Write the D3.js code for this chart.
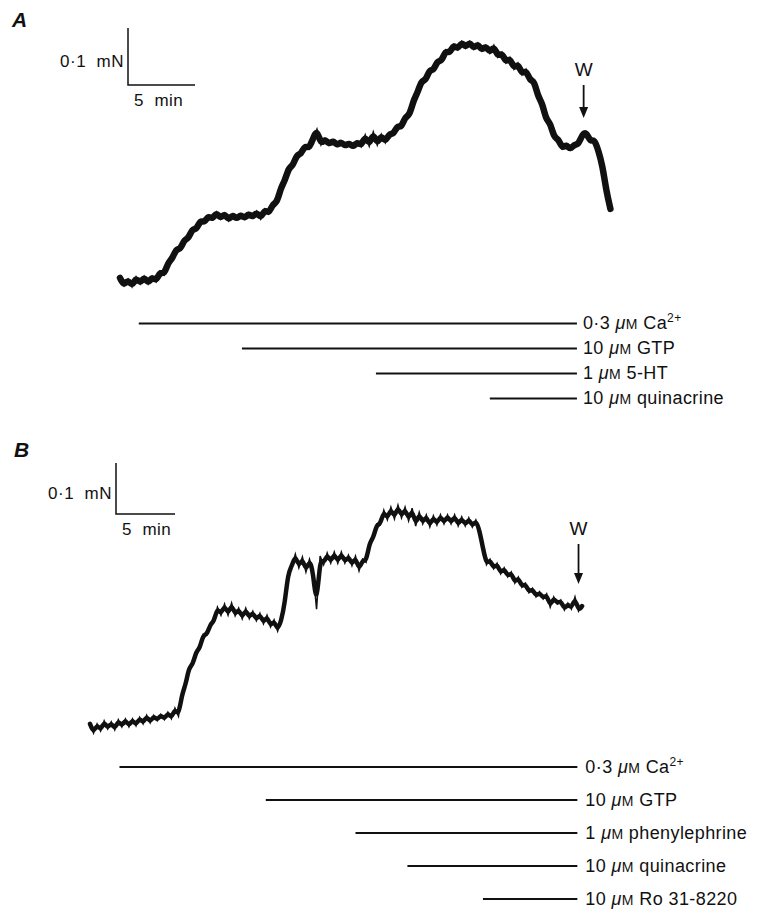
<!DOCTYPE html>
<html>
<head>
<meta charset="utf-8">
<script src="https://cdn.jsdelivr.net/npm/d3@7/dist/d3.min.js"></script>
<style>
  body { margin: 0; background: #fff; }
  svg text { font-family: "Liberation Sans", Arial, Helvetica, sans-serif; fill: #111; white-space: pre; }
</style>
</head>
<body>
<div id="chart"></div>
<script>
// tension traces, sampled every SAMPLE_MIN minutes (mN above starting level)
var SAMPLE_MIN = 0.3;

var traceA = [
  0.009, -0.005, 0.007, -0.007, 0.011, -0.002, 0.012, -0.002, 0.012, 0.002,
  0.021, 0.014, 0.037, 0.042, 0.061, 0.058, 0.077, 0.077, 0.096, 0.093,
  0.111, 0.105, 0.119, 0.111, 0.125, 0.112, 0.123, 0.109, 0.121, 0.111,
  0.121, 0.112, 0.123, 0.114, 0.126, 0.112, 0.130, 0.121, 0.139, 0.140,
  0.167, 0.179, 0.203, 0.205, 0.226, 0.225, 0.242, 0.235, 0.253, 0.270,
  0.242, 0.254, 0.242, 0.251, 0.240, 0.249, 0.239, 0.247, 0.237, 0.249,
  0.239, 0.260, 0.240, 0.265, 0.242, 0.261, 0.246, 0.263, 0.260, 0.277,
  0.272, 0.293, 0.293, 0.321, 0.333, 0.356, 0.354, 0.375, 0.372, 0.391,
  0.388, 0.409, 0.402, 0.419, 0.409, 0.424, 0.412, 0.424, 0.410, 0.421,
  0.407, 0.417, 0.403, 0.417, 0.396, 0.405, 0.386, 0.396, 0.375, 0.386,
  0.365, 0.375, 0.354, 0.356, 0.326, 0.317, 0.286, 0.282, 0.254, 0.254,
  0.235, 0.244, 0.233, 0.244, 0.242, 0.261, 0.265, 0.247, 0.253, 0.232,
  0.207, 0.160, 0.130
];

var traceB = [
  0.012, -0.006, 0.012, -0.002, 0.018, 0.002, 0.016, 0.000, 0.020, 0.006,
  0.022, 0.006, 0.022, 0.008, 0.025, 0.012, 0.029, 0.014, 0.029, 0.018,
  0.031, 0.020, 0.035, 0.022, 0.043, 0.027, 0.071, 0.088, 0.124, 0.127,
  0.155, 0.159, 0.188, 0.186, 0.208, 0.212, 0.241, 0.225, 0.247, 0.225,
  0.249, 0.224, 0.239, 0.218, 0.239, 0.218, 0.233, 0.214, 0.229, 0.208,
  0.225, 0.202, 0.216, 0.194, 0.214, 0.247, 0.310, 0.320, 0.345, 0.318,
  0.339, 0.310, 0.335, 0.312, 0.237, 0.341, 0.324, 0.347, 0.327, 0.349,
  0.327, 0.349, 0.327, 0.343, 0.322, 0.341, 0.312, 0.335, 0.329, 0.369,
  0.375, 0.404, 0.402, 0.431, 0.412, 0.437, 0.414, 0.441, 0.416, 0.437,
  0.410, 0.435, 0.400, 0.427, 0.404, 0.422, 0.398, 0.420, 0.402, 0.422,
  0.404, 0.422, 0.404, 0.422, 0.400, 0.418, 0.400, 0.416, 0.398, 0.412,
  0.392, 0.357, 0.324, 0.335, 0.316, 0.327, 0.306, 0.318, 0.300, 0.310,
  0.288, 0.300, 0.280, 0.288, 0.269, 0.278, 0.261, 0.271, 0.257, 0.267,
  0.241, 0.261, 0.247, 0.255, 0.235, 0.249, 0.237, 0.261, 0.233, 0.243
];

// drug applications: [concentration, substance, superscript], start time (min)
var drugLabelsA = [["0·3", "Ca", "2+"], ["10", "GTP", ""], ["1", "5-HT", ""], ["10", "quinacrine", ""]];
var drugStartA = [1.4, 9.1, 19.1, 27.6];
var drugEndA = 34.1;
var washA = 34.6;

var drugLabelsB = [["0·3", "Ca", "2+"], ["10", "GTP", ""], ["1", "phenylephrine", ""],
  ["10", "quinacrine", ""], ["10", "Ro 31-8220", ""]];
var drugStartB = [2.5, 14.9, 22.5, 26.9, 33.3];
var drugEndB = 41.3;
var washB = 41.4;

// scale bar sizes
var BAR_MIN = 5;
var BAR_MN = 0.1;

var W = 768, H = 909;
var svg = d3.select("#chart").append("svg")
  .attr("width", W)
  .attr("height", H);

function drawPanel(opts) {
  var g = svg.append("g");
  var x = d3.scaleLinear().domain([0, 50]).range([opts.x0, opts.x0 + 50 * opts.pxPerMin]);
  var y = d3.scaleLinear().domain([0, 0.5]).range([opts.y0, opts.y0 - 0.5 * opts.pxPerMN]);

  // panel letter
  g.append("text")
    .attr("x", opts.letterX)
    .attr("y", opts.letterY)
    .attr("font-size", "21px")
    .attr("font-weight", "bold")
    .attr("font-style", "italic")
    .text(opts.letter);

  // calibration bars
  var bx = opts.barX, by = opts.barY;
  var barW = x(BAR_MIN) - x(0);
  var barH = y(0) - y(BAR_MN);
  g.append("path")
    .attr("d", "M" + bx + "," + (by - barH) + "V" + by + "H" + (bx + barW))
    .attr("fill", "none")
    .attr("stroke", "#111")
    .attr("stroke-width", 1.5);
  g.append("text")
    .attr("x", bx - 4)
    .attr("y", by - barH / 2 + 10)
    .attr("text-anchor", "end")
    .attr("font-size", "17px")
    .attr("letter-spacing", "0.5px")
    .text("0·1  mN");
  g.append("text")
    .attr("x", bx + 6)
    .attr("y", by + 21)
    .attr("font-size", "17px")
    .attr("letter-spacing", "0.5px")
    .text(BAR_MIN + "  min");

  // trace: a smoothed band underneath, the raw jagged record on top
  var px = function (d, i) { return x(i * SAMPLE_MIN); };
  var py = function (d) { return y(d); };
  g.append("path")
    .datum(opts.trace)
    .attr("d", d3.line().x(px).y(py).curve(d3.curveBasis))
    .attr("fill", "none")
    .attr("stroke", "#111")
    .attr("stroke-width", opts.band)
    .attr("stroke-linecap", "round")
    .attr("stroke-linejoin", "round");
  g.append("path")
    .datum(opts.trace)
    .attr("d", d3.line().x(px).y(py))
    .attr("fill", "none")
    .attr("stroke", "#111")
    .attr("stroke-width", 1.5)
    .attr("stroke-linejoin", "miter");

  // washout arrow
  var wx = x(opts.wash);
  g.append("text")
    .attr("x", wx)
    .attr("y", opts.wY)
    .attr("text-anchor", "middle")
    .attr("font-size", "19px")
    .text("W");
  g.append("line")
    .attr("x1", wx).attr("x2", wx)
    .attr("y1", opts.wY + 9).attr("y2", opts.arrowTip - 8)
    .attr("stroke", "#111")
    .attr("stroke-width", 1.8);
  g.append("path")
    .attr("d", "M" + (wx - 4.5) + "," + (opts.arrowTip - 11) + "L" + (wx + 4.5) + "," + (opts.arrowTip - 11) +
      "L" + wx + "," + opts.arrowTip + "Z")
    .attr("fill", "#111");

  // drug bars
  var rows = g.selectAll(".drug")
    .data(opts.labels)
    .enter().append("g")
    .attr("class", "drug")
    .attr("transform", function (d, i) { return "translate(0," + (opts.rowY + i * opts.rowStep) + ")"; });

  rows.append("line")
    .attr("x1", function (d, i) { return x(opts.starts[i]); })
    .attr("x2", x(opts.end))
    .attr("stroke", "#111")
    .attr("stroke-width", 2);

  var t = rows.append("text")
    .attr("x", x(opts.end) + opts.labelGap)
    .attr("y", 5.5)
    .attr("font-size", "18px")
    .attr("letter-spacing", "0.4px");
  t.append("tspan").text(function (d) { return d[0] + " "; });
  t.append("tspan").attr("font-style", "italic").text("μ");
  t.append("tspan").attr("font-size", "14px").text("M");
  t.append("tspan").text(function (d) { return " " + d[1]; });
  t.append("tspan")
    .attr("font-size", "12px")
    .attr("dy", -7)
    .text(function (d) { return d[2]; });
}

drawPanel({
  letter: "A", letterX: 12, letterY: 27,
  x0: 120, pxPerMin: 13.4, y0: 283, pxPerMN: 570,
  barX: 128, barY: 85, band: 6.5,
  trace: traceA, wash: washA, wY: 76, arrowTip: 118,
  labels: drugLabelsA, starts: drugStartA, end: drugEndA, labelGap: 6,
  rowY: 323.5, rowStep: 25
});

drawPanel({
  letter: "B", letterX: 14, letterY: 457,
  x0: 90, pxPerMin: 11.8, y0: 730, pxPerMN: 510,
  barX: 116, barY: 514, band: 4.5,
  trace: traceB, wash: washB, wY: 535, arrowTip: 584,
  labels: drugLabelsB, starts: drugStartB, end: drugEndB, labelGap: 8,
  rowY: 767, rowStep: 33
});
</script>
</body>
</html>
